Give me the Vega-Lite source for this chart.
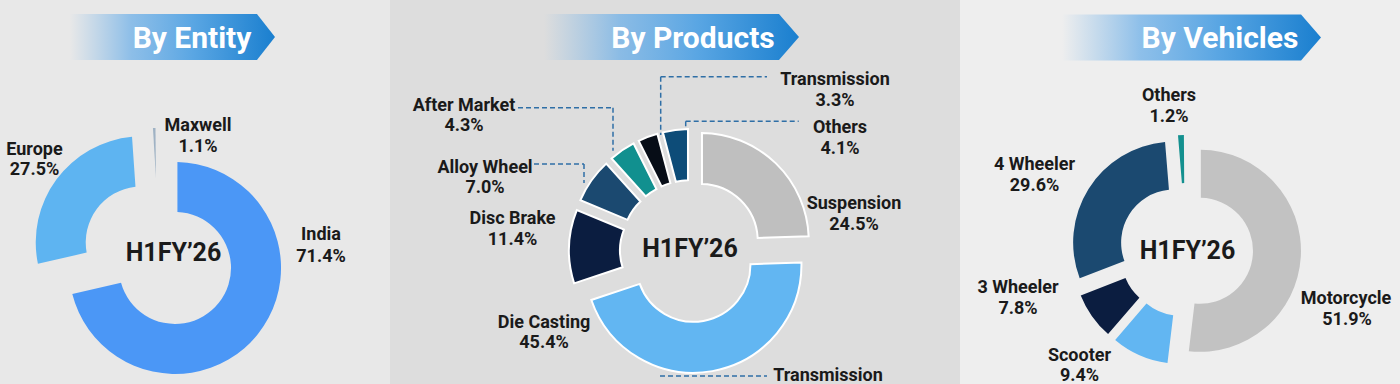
{
"$schema": "https://vega.github.io/schema/vega-lite/v6.json",
"width": 1400, "height": 384,
"autosize": "none",
"padding": 0,
"background": "#e6e6e6",
"config": {"view": {"stroke": null}, "axis": {"disable": true}, "legend": {"disable": true},
  "text": {"font": "Roboto", "fontSize": 18, "fontWeight": "bold", "color": "#1a1a1a", "align": "center", "baseline": "alphabetic"}},
"resolve": {"scale": {"color": "independent"}},
"datasets": {
  "panels": [
    {"panel": "By Entity", "period": "H1FY’26"},
    {"panel": "By Products", "period": "H1FY’26"},
    {"panel": "By Vehicles", "period": "H1FY’26"}
  ],
  "entity": [
    {"category": "India", "share": 0.714},
    {"category": "Europe", "share": 0.275},
    {"category": "Maxwell", "share": 0.011}
  ],
  "products": [
    {"category": "Suspension", "share": 0.245},
    {"category": "Die Casting", "share": 0.454},
    {"category": "Disc Brake", "share": 0.114},
    {"category": "Alloy Wheel", "share": 0.070},
    {"category": "After Market", "share": 0.043},
    {"category": "Transmission", "share": 0.033},
    {"category": "Others", "share": 0.041}
  ],
  "vehicles": [
    {"category": "Motorcycle", "share": 0.519},
    {"category": "Scooter", "share": 0.094},
    {"category": "3 Wheeler", "share": 0.078},
    {"category": "4 Wheeler", "share": 0.296},
    {"category": "Others", "share": 0.012}
  ]
},
"layer": [
  {"data": {"name": "panels"}, "transform": [{"filter": "datum.panel==='By Entity'"}],
   "mark": {"type": "rect", "color": "#e8e8e8"},
   "encoding": {"x": {"datum": 0, "type": "quantitative", "scale": {"domain": [0, 140], "nice": false, "zero": false}, "axis": null}, "x2": {"datum": 39},
     "y": {"datum": 0, "type": "quantitative", "scale": {"domain": [0, 38.4], "nice": false, "zero": false, "reverse": true}, "axis": null}, "y2": {"datum": 38.4}}},
  {"data": {"name": "panels"}, "transform": [{"filter": "datum.panel==='By Products'"}],
   "mark": {"type": "rect", "color": "#dddddd"},
   "encoding": {"x": {"datum": 39}, "x2": {"datum": 96}, "y": {"datum": 0}, "y2": {"datum": 38.4}}},
  {"data": {"name": "panels"}, "transform": [{"filter": "datum.panel==='By Vehicles'"}],
   "mark": {"type": "rect", "color": "#eeeeee"},
   "encoding": {"x": {"datum": 96}, "x2": {"datum": 140}, "y": {"datum": 0}, "y2": {"datum": 38.4}}},

  {"data": {"name": "panels"}, "transform": [{"filter": "datum.panel==='By Entity'"}],
   "mark": {"type": "point", "shape": "M-1,-0.224L0.824,-0.224L1,0L0.824,0.224L-1,0.224Z", "size": 42025, "filled": true, "opacity": 1, "strokeWidth": 0,
     "fill": {"gradient": "linear", "x1": 0, "y1": 0, "x2": 1, "y2": 0, "stops": [{"offset": 0, "color": "rgba(120,180,232,0)"}, {"offset": 0.3, "color": "rgba(110,176,232,0.75)"}, {"offset": 0.6, "color": "#5aa6e3"}, {"offset": 1, "color": "#1a7fcf"}]}},
   "encoding": {"x": {"datum": 17.25}, "y": {"datum": 3.7}}},
  {"data": {"name": "panels"}, "transform": [{"filter": "datum.panel==='By Products'"}],
   "mark": {"type": "point", "shape": "M-1,-0.18L0.843,-0.18L1,0L0.843,0.18L-1,0.18Z", "size": 65025, "filled": true, "opacity": 1, "strokeWidth": 0,
     "fill": {"gradient": "linear", "x1": 0, "y1": 0, "x2": 1, "y2": 0, "stops": [{"offset": 0, "color": "rgba(120,180,232,0)"}, {"offset": 0.3, "color": "rgba(110,176,232,0.75)"}, {"offset": 0.6, "color": "#5aa6e3"}, {"offset": 1, "color": "#1a7fcf"}]}},
   "encoding": {"x": {"datum": 67.15}, "y": {"datum": 3.7}}},
  {"data": {"name": "panels"}, "transform": [{"filter": "datum.panel==='By Vehicles'"}],
   "mark": {"type": "point", "shape": "M-1,-0.178L0.846,-0.178L1,0L0.846,0.178L-1,0.178Z", "size": 67081, "filled": true, "opacity": 1, "strokeWidth": 0,
     "fill": {"gradient": "linear", "x1": 0, "y1": 0, "x2": 1, "y2": 0, "stops": [{"offset": 0, "color": "rgba(120,180,232,0)"}, {"offset": 0.3, "color": "rgba(110,176,232,0.75)"}, {"offset": 0.6, "color": "#5aa6e3"}, {"offset": 1, "color": "#1a7fcf"}]}},
   "encoding": {"x": {"datum": 119.15}, "y": {"datum": 3.75}}},

  {"data": {"name": "panels"}, "transform": [{"filter": "datum.panel==='By Entity'"}],
   "mark": {"type": "text", "fontSize": 30, "color": "#ffffff"},
   "encoding": {"x": {"datum": 19.2}, "y": {"datum": 4.8}, "text": {"field": "panel"}}},
  {"data": {"name": "panels"}, "transform": [{"filter": "datum.panel==='By Products'"}],
   "mark": {"type": "text", "fontSize": 30, "color": "#ffffff"},
   "encoding": {"x": {"datum": 69.3}, "y": {"datum": 4.8}, "text": {"field": "panel"}}},
  {"data": {"name": "panels"}, "transform": [{"filter": "datum.panel==='By Vehicles'"}],
   "mark": {"type": "text", "fontSize": 30, "color": "#ffffff"},
   "encoding": {"x": {"datum": 122.0}, "y": {"datum": 4.8}, "text": {"field": "panel"}}},

  {"data": {"name": "products"}, "transform": [{"filter": "datum.category==='After Market'"}],
   "mark": {"type": "rule", "color": "#2f6fa6", "strokeWidth": 1.5, "strokeDash": [5, 3]},
   "encoding": {"x": {"datum": 51.8}, "x2": {"datum": 61.3}, "y": {"datum": 10.77}}},
  {"data": {"name": "products"}, "transform": [{"filter": "datum.category==='After Market'"}],
   "mark": {"type": "rule", "color": "#2f6fa6", "strokeWidth": 1.5, "strokeDash": [5, 3]},
   "encoding": {"x": {"datum": 61.3}, "y": {"datum": 10.77}, "y2": {"datum": 15.07}}},
  {"data": {"name": "products"}, "transform": [{"filter": "datum.category==='Alloy Wheel'"}],
   "mark": {"type": "rule", "color": "#2f6fa6", "strokeWidth": 1.5, "strokeDash": [5, 3]},
   "encoding": {"x": {"datum": 53.4}, "x2": {"datum": 58.4}, "y": {"datum": 16.4}}},
  {"data": {"name": "products"}, "transform": [{"filter": "datum.category==='Alloy Wheel'"}],
   "mark": {"type": "rule", "color": "#2f6fa6", "strokeWidth": 1.5, "strokeDash": [5, 3]},
   "encoding": {"x": {"datum": 58.4}, "y": {"datum": 16.4}, "y2": {"datum": 18.3}}},
  {"data": {"name": "products"}, "transform": [{"filter": "datum.category==='Transmission'"}],
   "mark": {"type": "rule", "color": "#2f6fa6", "strokeWidth": 1.5, "strokeDash": [5, 3]},
   "encoding": {"x": {"datum": 66.07}, "x2": {"datum": 76.7}, "y": {"datum": 7.67}}},
  {"data": {"name": "products"}, "transform": [{"filter": "datum.category==='Transmission'"}],
   "mark": {"type": "rule", "color": "#2f6fa6", "strokeWidth": 1.5, "strokeDash": [5, 3]},
   "encoding": {"x": {"datum": 66.07}, "y": {"datum": 7.67}, "y2": {"datum": 13.5}}},
  {"data": {"name": "products"}, "transform": [{"filter": "datum.category==='Others'"}],
   "mark": {"type": "rule", "color": "#2f6fa6", "strokeWidth": 1.5, "strokeDash": [5, 3]},
   "encoding": {"x": {"datum": 68.57}, "x2": {"datum": 79.87}, "y": {"datum": 12.13}}},
  {"data": {"name": "products"}, "transform": [{"filter": "datum.category==='Others'"}],
   "mark": {"type": "rule", "color": "#2f6fa6", "strokeWidth": 1.5, "strokeDash": [5, 3]},
   "encoding": {"x": {"datum": 68.57}, "y": {"datum": 12.13}, "y2": {"datum": 12.7}}},
  {"data": {"name": "products"}, "transform": [{"filter": "datum.category==='Transmission'"}],
   "mark": {"type": "rule", "color": "#2f6fa6", "strokeWidth": 1.5, "strokeDash": [5, 3]},
   "encoding": {"x": {"datum": 66.0}, "x2": {"datum": 76.7}, "y": {"datum": 37.6}}},

  {"data": {"name": "entity"}, "transform": [{"stack": "share", "groupby": [], "as": ["v0", "v1"]}],
   "mark": {"type": "arc", "radius": 106, "radius2": 56, "padAngle": 0.04, "strokeWidth": 0,
     "xOffset": {"expr": "21*sin(PI*(datum.v0+datum.v1))"}, "yOffset": {"expr": "-21*cos(PI*(datum.v0+datum.v1))"}},
   "encoding": {"x": {"datum": 15.86}, "y": {"datum": 25.49},
     "theta": {"field": "v0", "type": "quantitative", "scale": {"domain": [0, 1], "range": [0, 6.283185307179586]}}, "theta2": {"field": "v1"},
     "color": {"field": "category", "type": "nominal", "scale": {"domain": ["India", "Europe", "Maxwell"], "range": ["#4b97f6", "#5eb4f1", "#9fb2c4"]}, "legend": null}}},
  {"data": {"name": "products"}, "transform": [{"stack": "share", "groupby": [], "as": ["v0", "v1"]}],
   "mark": {"type": "arc", "radius": 108, "radius2": 57, "padAngle": 0.02, "stroke": "#ffffff", "strokeWidth": 2,
     "xOffset": {"expr": "14*sin(PI*(datum.v0+datum.v1))"}, "yOffset": {"expr": "-14*cos(PI*(datum.v0+datum.v1))"}},
   "encoding": {"x": {"datum": 69.1}, "y": {"datum": 25.1},
     "theta": {"field": "v0", "type": "quantitative", "scale": {"domain": [0, 1], "range": [0, 6.283185307179586]}}, "theta2": {"field": "v1"},
     "color": {"field": "category", "type": "nominal", "scale": {"domain": ["Suspension", "Die Casting", "Disc Brake", "Alloy Wheel", "After Market", "Transmission", "Others"], "range": ["#bfbfbf", "#62b6f2", "#0b1d40", "#1b4970", "#11908f", "#070d17", "#0d4c78"]}, "legend": null}}},
  {"data": {"name": "vehicles"}, "transform": [{"stack": "share", "groupby": [], "as": ["v0", "v1"]}],
   "mark": {"type": "arc", "radius": 101, "radius2": 53, "padAngle": 0.015, "strokeWidth": 0,
     "xOffset": {"expr": "14*sin(PI*(datum.v0+datum.v1))"}, "yOffset": {"expr": "-14*cos(PI*(datum.v0+datum.v1))"}},
   "encoding": {"x": {"datum": 118.6}, "y": {"datum": 25.0},
     "theta": {"field": "v0", "type": "quantitative", "scale": {"domain": [0, 1], "range": [0, 6.283185307179586]}}, "theta2": {"field": "v1"},
     "color": {"field": "category", "type": "nominal", "scale": {"domain": ["Motorcycle", "Scooter", "3 Wheeler", "4 Wheeler", "Others"], "range": ["#c2c2c2", "#62b6f2", "#0b1d40", "#1b4970", "#13908f"]}, "legend": null}}},

  {"data": {"name": "panels"}, "transform": [{"filter": "datum.panel==='By Entity'"}],
   "mark": {"type": "text", "fontSize": 25},
   "encoding": {"x": {"datum": 17.35}, "y": {"datum": 26.1}, "text": {"field": "period"}}},
  {"data": {"name": "panels"}, "transform": [{"filter": "datum.panel==='By Products'"}],
   "mark": {"type": "text", "fontSize": 25},
   "encoding": {"x": {"datum": 69.0}, "y": {"datum": 25.7}, "text": {"field": "period"}}},
  {"data": {"name": "panels"}, "transform": [{"filter": "datum.panel==='By Vehicles'"}],
   "mark": {"type": "text", "fontSize": 25},
   "encoding": {"x": {"datum": 118.75}, "y": {"datum": 25.9}, "text": {"field": "period"}}},

  {"data": {"name": "entity"}, "transform": [{"filter": "datum.category==='Europe'"}], "mark": "text",
   "encoding": {"x": {"datum": 3.45}, "y": {"datum": 15.5}, "text": {"field": "category"}}},
  {"data": {"name": "entity"}, "transform": [{"filter": "datum.category==='Europe'"}], "mark": "text",
   "encoding": {"x": {"datum": 3.45}, "y": {"datum": 17.5}, "text": {"field": "share", "type": "quantitative", "format": ".1%"}}},
  {"data": {"name": "entity"}, "transform": [{"filter": "datum.category==='Maxwell'"}], "mark": "text",
   "encoding": {"x": {"datum": 19.8}, "y": {"datum": 13.1}, "text": {"field": "category"}}},
  {"data": {"name": "entity"}, "transform": [{"filter": "datum.category==='Maxwell'"}], "mark": "text",
   "encoding": {"x": {"datum": 19.8}, "y": {"datum": 15.2}, "text": {"field": "share", "type": "quantitative", "format": ".1%"}}},
  {"data": {"name": "entity"}, "transform": [{"filter": "datum.category==='India'"}], "mark": "text",
   "encoding": {"x": {"datum": 32.1}, "y": {"datum": 24.0}, "text": {"field": "category"}}},
  {"data": {"name": "entity"}, "transform": [{"filter": "datum.category==='India'"}], "mark": "text",
   "encoding": {"x": {"datum": 32.1}, "y": {"datum": 26.2}, "text": {"field": "share", "type": "quantitative", "format": ".1%"}}},

  {"data": {"name": "products"}, "transform": [{"filter": "datum.category==='After Market'"}], "mark": "text",
   "encoding": {"x": {"datum": 46.4}, "y": {"datum": 11.1}, "text": {"field": "category"}}},
  {"data": {"name": "products"}, "transform": [{"filter": "datum.category==='After Market'"}], "mark": "text",
   "encoding": {"x": {"datum": 46.4}, "y": {"datum": 13.1}, "text": {"field": "share", "type": "quantitative", "format": ".1%"}}},
  {"data": {"name": "products"}, "transform": [{"filter": "datum.category==='Alloy Wheel'"}], "mark": "text",
   "encoding": {"x": {"datum": 48.5}, "y": {"datum": 17.3}, "text": {"field": "category"}}},
  {"data": {"name": "products"}, "transform": [{"filter": "datum.category==='Alloy Wheel'"}], "mark": "text",
   "encoding": {"x": {"datum": 48.5}, "y": {"datum": 19.3}, "text": {"field": "share", "type": "quantitative", "format": ".1%"}}},
  {"data": {"name": "products"}, "transform": [{"filter": "datum.category==='Disc Brake'"}], "mark": "text",
   "encoding": {"x": {"datum": 51.25}, "y": {"datum": 22.4}, "text": {"field": "category"}}},
  {"data": {"name": "products"}, "transform": [{"filter": "datum.category==='Disc Brake'"}], "mark": "text",
   "encoding": {"x": {"datum": 51.25}, "y": {"datum": 24.5}, "text": {"field": "share", "type": "quantitative", "format": ".1%"}}},
  {"data": {"name": "products"}, "transform": [{"filter": "datum.category==='Die Casting'"}], "mark": "text",
   "encoding": {"x": {"datum": 54.4}, "y": {"datum": 32.8}, "text": {"field": "category"}}},
  {"data": {"name": "products"}, "transform": [{"filter": "datum.category==='Die Casting'"}], "mark": "text",
   "encoding": {"x": {"datum": 54.4}, "y": {"datum": 34.8}, "text": {"field": "share", "type": "quantitative", "format": ".1%"}}},
  {"data": {"name": "products"}, "transform": [{"filter": "datum.category==='Suspension'"}], "mark": "text",
   "encoding": {"x": {"datum": 85.4}, "y": {"datum": 20.9}, "text": {"field": "category"}}},
  {"data": {"name": "products"}, "transform": [{"filter": "datum.category==='Suspension'"}], "mark": "text",
   "encoding": {"x": {"datum": 85.4}, "y": {"datum": 23.0}, "text": {"field": "share", "type": "quantitative", "format": ".1%"}}},
  {"data": {"name": "products"}, "transform": [{"filter": "datum.category==='Others'"}], "mark": "text",
   "encoding": {"x": {"datum": 84.0}, "y": {"datum": 13.3}, "text": {"field": "category"}}},
  {"data": {"name": "products"}, "transform": [{"filter": "datum.category==='Others'"}], "mark": "text",
   "encoding": {"x": {"datum": 84.0}, "y": {"datum": 15.4}, "text": {"field": "share", "type": "quantitative", "format": ".1%"}}},
  {"data": {"name": "products"}, "transform": [{"filter": "datum.category==='Transmission'"}], "mark": "text",
   "encoding": {"x": {"datum": 83.5}, "y": {"datum": 8.5}, "text": {"field": "category"}}},
  {"data": {"name": "products"}, "transform": [{"filter": "datum.category==='Transmission'"}], "mark": "text",
   "encoding": {"x": {"datum": 83.5}, "y": {"datum": 10.6}, "text": {"field": "share", "type": "quantitative", "format": ".1%"}}},
  {"data": {"name": "products"}, "transform": [{"filter": "datum.category==='Transmission'"}], "mark": "text",
   "encoding": {"x": {"datum": 82.8}, "y": {"datum": 38.1}, "text": {"field": "category"}}},

  {"data": {"name": "vehicles"}, "transform": [{"filter": "datum.category==='Others'"}], "mark": "text",
   "encoding": {"x": {"datum": 116.9}, "y": {"datum": 10.1}, "text": {"field": "category"}}},
  {"data": {"name": "vehicles"}, "transform": [{"filter": "datum.category==='Others'"}], "mark": "text",
   "encoding": {"x": {"datum": 116.9}, "y": {"datum": 12.2}, "text": {"field": "share", "type": "quantitative", "format": ".1%"}}},
  {"data": {"name": "vehicles"}, "transform": [{"filter": "datum.category==='4 Wheeler'"}], "mark": "text",
   "encoding": {"x": {"datum": 103.45}, "y": {"datum": 17.0}, "text": {"field": "category"}}},
  {"data": {"name": "vehicles"}, "transform": [{"filter": "datum.category==='4 Wheeler'"}], "mark": "text",
   "encoding": {"x": {"datum": 103.45}, "y": {"datum": 19.1}, "text": {"field": "share", "type": "quantitative", "format": ".1%"}}},
  {"data": {"name": "vehicles"}, "transform": [{"filter": "datum.category==='3 Wheeler'"}], "mark": "text",
   "encoding": {"x": {"datum": 101.8}, "y": {"datum": 29.3}, "text": {"field": "category"}}},
  {"data": {"name": "vehicles"}, "transform": [{"filter": "datum.category==='3 Wheeler'"}], "mark": "text",
   "encoding": {"x": {"datum": 101.8}, "y": {"datum": 31.4}, "text": {"field": "share", "type": "quantitative", "format": ".1%"}}},
  {"data": {"name": "vehicles"}, "transform": [{"filter": "datum.category==='Scooter'"}], "mark": "text",
   "encoding": {"x": {"datum": 107.95}, "y": {"datum": 36.1}, "text": {"field": "category"}}},
  {"data": {"name": "vehicles"}, "transform": [{"filter": "datum.category==='Scooter'"}], "mark": "text",
   "encoding": {"x": {"datum": 107.95}, "y": {"datum": 38.1}, "text": {"field": "share", "type": "quantitative", "format": ".1%"}}},
  {"data": {"name": "vehicles"}, "transform": [{"filter": "datum.category==='Motorcycle'"}], "mark": "text",
   "encoding": {"x": {"datum": 134.6}, "y": {"datum": 30.4}, "text": {"field": "category"}}},
  {"data": {"name": "vehicles"}, "transform": [{"filter": "datum.category==='Motorcycle'"}], "mark": "text",
   "encoding": {"x": {"datum": 134.7}, "y": {"datum": 32.5}, "text": {"field": "share", "type": "quantitative", "format": ".1%"}}}
]
}
